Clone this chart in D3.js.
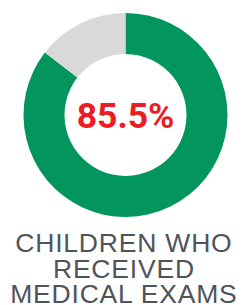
<!DOCTYPE html>
<html>
<head>
<meta charset="utf-8">
<script src="https://cdn.jsdelivr.net/npm/d3@7"></script>
<style>
  html, body { margin: 0; padding: 0; background: #fff; }
</style>
</head>
<body>
<svg id="chart"></svg>
<script>
// Data
const categories = ["Received", "Not received"];
const values = [85.5, 14.5];
const centerLabel = "85.5%";
const titleLines = ["CHILDREN WHO", "RECEIVED", "MEDICAL EXAMS"];

const width = 247, height = 305;
const cx = 125.5, cy = 115;
const outerR = 102, innerR = 61;

const svg = d3.select("#chart")
  .attr("width", width)
  .attr("height", height);

const g = svg.append("g")
  .attr("transform", `translate(${cx},${cy})`);

const color = d3.scaleOrdinal()
  .domain(categories)
  .range(["#02955d", "#d9d9d9"]);

const pie = d3.pie().sort(null).value(d => d.value);
const arc = d3.arc().innerRadius(innerR).outerRadius(outerR);

const data = categories.map((c, i) => ({ category: c, value: values[i] }));

g.selectAll("path")
  .data(pie(data))
  .enter()
  .append("path")
  .attr("d", arc)
  .attr("fill", d => color(d.data.category));

// Center value
g.append("text")
  .attr("x", 0)
  .attr("y", 0)
  .attr("dy", "0.36em")
  .attr("text-anchor", "middle")
  .style("font-family", "Roboto, 'Liberation Sans', Arial, sans-serif")
  .style("font-weight", "bold")
  .style("font-size", "35.5px")
  .attr("fill", "#ec1c24")
  .text(centerLabel);

// Title below
svg.selectAll(".title")
  .data(titleLines)
  .enter()
  .append("text")
  .attr("class", "title")
  .attr("x", width / 2 + 0.4)
  .attr("y", (d, i) => 252 + i * 25.5)
  .attr("text-anchor", "middle")
  .style("font-family", "'Liberation Sans', Arial, sans-serif")
  .style("font-size", "26.5px")
  .style("letter-spacing", "0.8px")
  .attr("fill", "#4f545a")
  .text(d => d);
</script>
</body>
</html>
